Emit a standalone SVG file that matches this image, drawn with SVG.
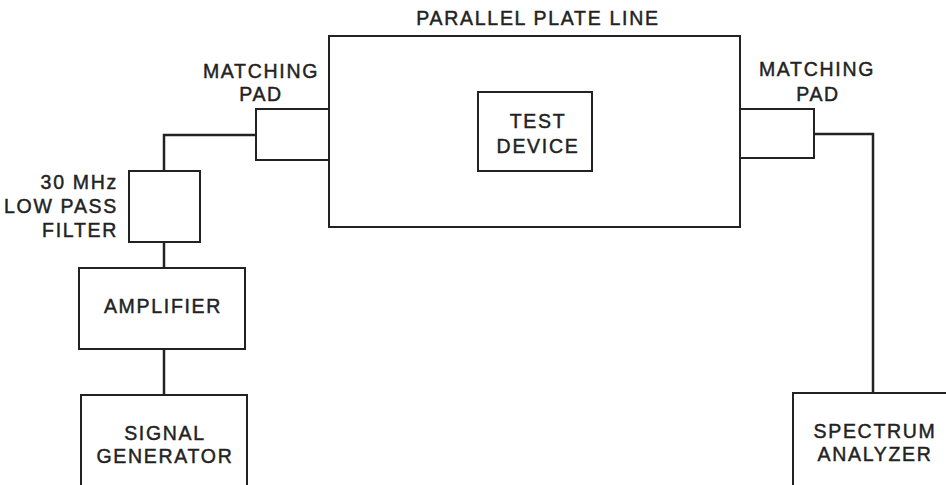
<svg xmlns="http://www.w3.org/2000/svg" width="946" height="485" viewBox="0 0 946 485">
<style>
.box{fill:none;stroke:#222;stroke-width:2}
.wire{fill:none;stroke:#222;stroke-width:2.5}
text{font-family:"Liberation Sans",Arial,sans-serif;font-size:19.5px;fill:#222;stroke:#222;stroke-width:0.45;letter-spacing:1.7px}
.c{text-anchor:middle}
.r{text-anchor:end}
</style>
<rect width="946" height="485" fill="#fff"/>
<g id="connectors">
<polyline class="wire" points="256,135 164,135 164,171"/>
<line class="wire" x1="164" y1="242" x2="164" y2="268"/>
<line class="wire" x1="164" y1="349" x2="164" y2="395"/>
<polyline class="wire" points="814,134 873,134 873,393"/>
</g>
<g id="parallel-plate-line">
<rect class="box" x="329" y="36" width="411" height="191"/>
<text class="c" x="538" y="25">PARALLEL PLATE LINE</text>
</g>
<g id="test-device">
<rect class="box" x="478" y="92" width="114" height="79"/>
<text class="c" x="538" y="128">TEST</text>
<text class="c" x="538" y="153">DEVICE</text>
</g>
<g id="matching-pad-left">
<rect class="box" x="256" y="109" width="73" height="51"/>
<text class="c" x="261" y="78">MATCHING</text>
<text class="c" x="261" y="101">PAD</text>
</g>
<g id="matching-pad-right">
<rect class="box" x="740" y="109" width="74" height="49"/>
<text class="c" x="817" y="76">MATCHING</text>
<text class="c" x="818" y="101">PAD</text>
</g>
<g id="low-pass-filter">
<rect class="box" x="129" y="171" width="71" height="71"/>
<text class="r" x="118" y="189">30 MHz</text>
<text class="r" x="118" y="213">LOW PASS</text>
<text class="r" x="118" y="237">FILTER</text>
</g>
<g id="amplifier">
<rect class="box" x="79" y="268" width="166" height="81"/>
<text class="c" x="163" y="313">AMPLIFIER</text>
</g>
<g id="signal-generator">
<rect class="box" x="81" y="395" width="166" height="100"/>
<text class="c" x="165" y="440">SIGNAL</text>
<text class="c" x="165" y="463">GENERATOR</text>
</g>
<g id="spectrum-analyzer">
<rect class="box" x="793" y="393" width="170" height="100"/>
<text class="c" x="875" y="438">SPECTRUM</text>
<text class="c" x="875" y="461">ANALYZER</text>
</g>
</svg>
